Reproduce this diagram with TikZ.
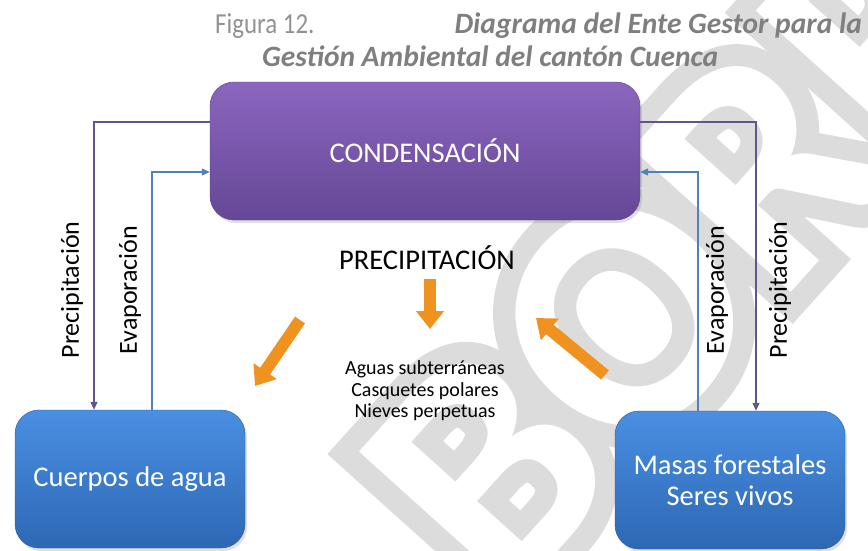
\documentclass[tikz,border=0pt]{standalone}
\usepackage{fontspec}
\setmainfont{Carlito}
\newfontfamily\wmgreyfam{Carlito}[BoldFeatures={FakeBold=13.5}]
\newfontfamily\wmwhitefam{Carlito}
\usetikzlibrary{arrows.meta,shadows}
\definecolor{purpT}{HTML}{8B66BE}
\definecolor{purpB}{HTML}{654796}
\definecolor{blueT}{HTML}{4A8FE2}
\definecolor{blueB}{HTML}{2D68B4}
\definecolor{plin}{HTML}{65548C}
\definecolor{blin}{HTML}{4F81BD}
\definecolor{orng}{HTML}{F0921F}
\definecolor{ttl}{HTML}{7F7F7F}
\definecolor{wmgray}{HTML}{DCDCDC}
\tikzset{
  cbox/.style={rounded corners=24pt, minimum width=430pt, minimum height=138pt, inner sep=0pt,
     top color=purpT, bottom color=purpB, draw=purpB!90!black, line width=0.4pt, text=white,
     drop shadow={opacity=0.25, shadow xshift=2pt, shadow yshift=-3pt},
     font=\fontsize{28.5}{31}\selectfont},
  bbox/.style={rounded corners=24pt, minimum width=230pt, minimum height=138pt, inner sep=0pt,
     top color=blueT, bottom color=blueB, draw=blueB!85!black, line width=0.4pt, text=white,
     drop shadow={opacity=0.25, shadow xshift=2pt, shadow yshift=-3pt},
     align=center, font=\fontsize{28.5}{31}\selectfont},
  vlab/.style={rotate=90, font=\fontsize{26}{28}\selectfont, inner sep=0pt},
  pconn/.style={draw=plin, line width=1.3pt, -{Triangle[width=7pt,length=8pt]}},
  bconn/.style={draw=blin, line width=1.3pt, -{Triangle[width=7pt,length=8pt]}},
  oarrow/.style={draw=orng, line width=12pt, -{Triangle[width=27pt,length=18pt]}},
  wmark/.style={inner sep=0pt, rotate=48, anchor=base west},
}
\begin{document}
\begin{tikzpicture}[x=1pt,y=-1pt]
\useasboundingbox (0,0) rectangle (868,550);
% watermark: hollow letters (grey outline band, white inside)
\coordinate (wmo) at (505,610);
\node[wmark, text=wmgray, font=\wmgreyfam\bfseries\fontsize{330}{330}\selectfont] (wm1) at (wmo) {BORRADOR};
\node[wmark, text=white, font=\wmwhitefam\bfseries\fontsize{330}{330}\selectfont] (wm2) at (wmo) {BORRADOR};
% title
\node[anchor=base west, text=ttl!85, inner sep=0pt, xscale=0.86, font=\fontsize{29}{31}\selectfont] (fig) at (215,33) {Figura 12.};
\node[anchor=base east, text=ttl, inner sep=0pt, font=\fontsize{29.5}{31}\selectfont\bfseries\itshape] (t1) at (862,33) {Diagrama del Ente Gestor para la};
\node[anchor=base west, text=ttl, inner sep=0pt, font=\fontsize{29.5}{31}\selectfont\bfseries\itshape] (t2) at (262,66) {Gestión Ambiental del cantón Cuenca};
% boxes
\node[cbox] (cond) at (425,151) {CONDENSACIÓN};
\node[bbox] (cuer) at (130,479) {Cuerpos de agua};
\node[bbox] (masa) at (730,480) {Masas forestales\\Seres vivos};
% connectors
\draw[pconn] (cond.west |- 0,122) -| (cuer.north -| 94,0);
\draw[bconn] (cuer.north -| 152,0) |- (cond.west |- 0,172);
\draw[pconn] (cond.east |- 0,122) -| (masa.north -| 756,0);
\draw[bconn] (masa.north -| 698,0) |- (cond.east |- 0,172);
% vertical labels
\node[vlab] (pl) at (72,290) {Precipitación};
\node[vlab] (el) at (130,290) {Evaporación};
\node[vlab] (er) at (717,290) {Evaporación};
\node[vlab] (pr) at (780,290) {Precipitación};
% center
\node[font=\fontsize{28.5}{30}\selectfont, inner sep=0pt] (prec) at (427,258) {PRECIPITACIÓN};
\node[font=\fontsize{20}{21.5}\selectfont, align=center, inner sep=0pt] (aguas) at (425,391) {Aguas subterráneas\\Casquetes polares\\Nieves perpetuas};
% orange arrows
\coordinate (d1) at (430,279);
\coordinate (d2) at (430,329);
\coordinate (l1) at (300,320);
\coordinate (l2) at (255,386);
\coordinate (r1) at (605,375);
\coordinate (r2) at (536,318);
\draw[oarrow] (d1) -- (d2);
\draw[oarrow] (l1) -- (l2);
\draw[oarrow] (r1) -- (r2);
\end{tikzpicture}
\end{document}
